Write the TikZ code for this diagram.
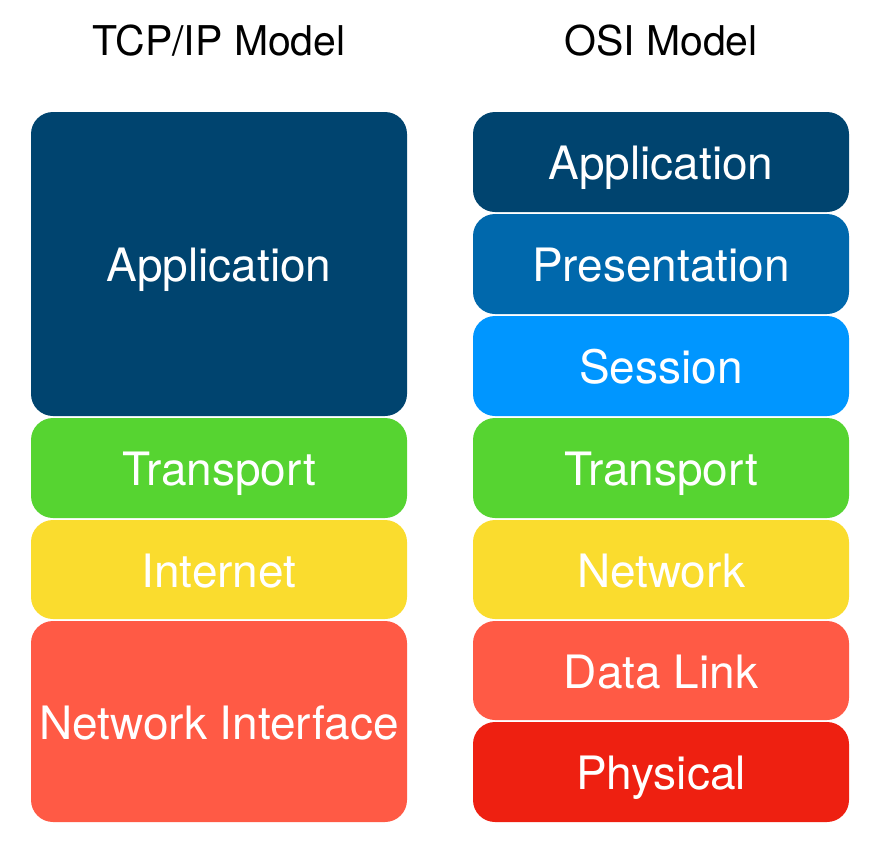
\documentclass[tikz,border=0pt]{standalone}
\usepackage{fontspec}
\setmainfont{TeX Gyre Heros}
\definecolor{cApp}{HTML}{00446F}
\definecolor{cPres}{HTML}{0068AC}
\definecolor{cSess}{HTML}{0096FF}
\definecolor{cTrans}{HTML}{56D431}
\definecolor{cNet}{HTML}{FADC2E}
\definecolor{cLink}{HTML}{FF5A45}
\definecolor{cPhys}{HTML}{EE2011}
\tikzset{
  layer/.style={rectangle, rounded corners=22pt, draw=none, inner sep=0pt,
    minimum width=376pt, text=white, font=\fontsize{46}{46}\selectfont,
    text height=35pt, text depth=0pt},
  title/.style={font=\fontsize{41}{41}\selectfont, anchor=base, text=black, inner sep=0pt}
}
\begin{document}
\begin{tikzpicture}[x=1pt,y=-1pt]
\useasboundingbox (0,0) rectangle (890,862);
% titles
\node[title] (t1) at (219,55) {TCP/IP Model};
\node[title] (t2) at (661,55) {OSI Model};
% TCP/IP
\node[layer, fill=cApp, minimum height=304pt] (lapp) at (219,264) {Application};
\node[layer, fill=cTrans, minimum height=100pt] (ltrans) at (219,468) {Transport};
\node[layer, fill=cNet, minimum height=99pt] (linet) at (219,569.5) {Internet};
\node[layer, fill=cLink, minimum height=201pt] (lni) at (219,721.5) {Network Interface};
% OSI
\node[layer, fill=cApp, minimum height=100pt] (rapp) at (661,162) {Application};
\node[layer, fill=cPres, minimum height=100pt] (rpres) at (661,264) {Presentation};
\node[layer, fill=cSess, minimum height=100pt] (rsess) at (661,366) {Session};
\node[layer, fill=cTrans, minimum height=100pt] (rtrans) at (661,468) {Transport};
\node[layer, fill=cNet, minimum height=99pt] (rnet) at (661,569.5) {Network};
\node[layer, fill=cLink, minimum height=99pt] (rlink) at (661,670.5) {Data Link};
\node[layer, fill=cPhys, minimum height=100pt] (rphys) at (661,772) {Physical};
\end{tikzpicture}
\end{document}
